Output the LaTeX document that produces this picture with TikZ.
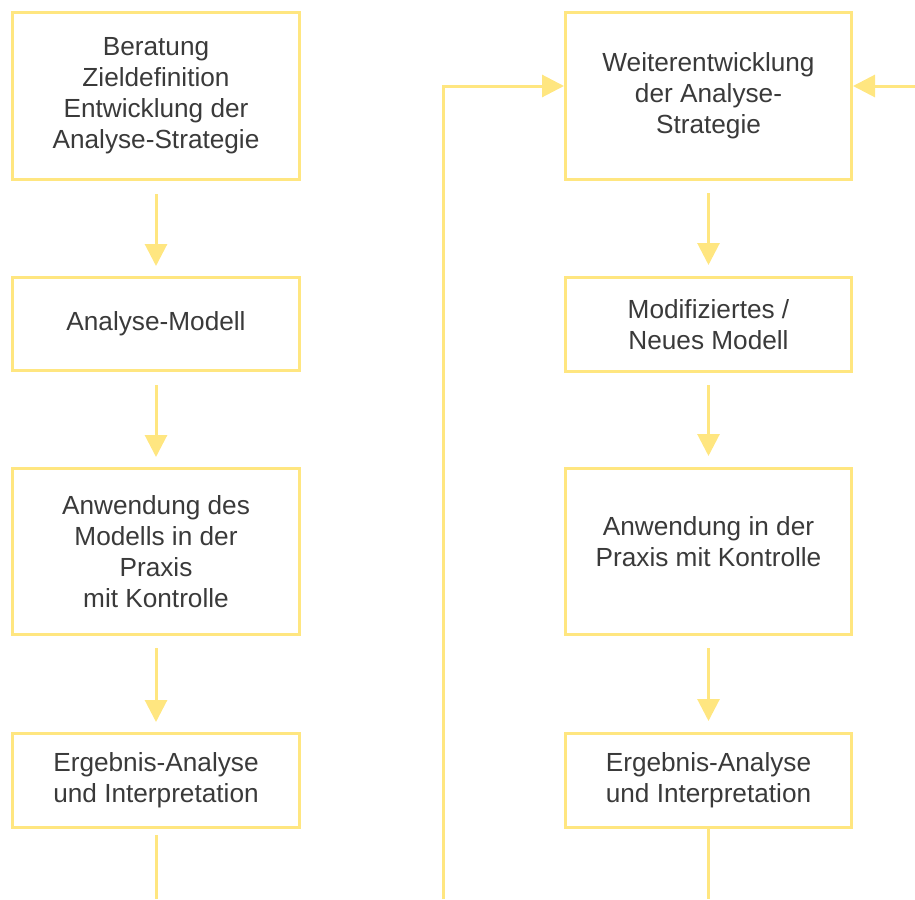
\documentclass[tikz,border=0pt]{standalone}
\usepackage{fontspec}
\setmainfont{Liberation Sans}
\usetikzlibrary{arrows.meta}
\definecolor{boxline}{HTML}{FFE680}
\definecolor{txt}{HTML}{3A3A3A}
\tikzset{
  stepbox/.style={draw=boxline, line width=3pt, fill=white, align=center,
    text=txt, font=\fontsize{26.2}{31}\selectfont, inner sep=0pt},
  narrowbox/.style={stepbox, minimum width=287pt},
  link/.style={draw=boxline, line width=3pt},
  flow/.style={link, -{Triangle[width=22pt,length=22pt]}},
}
\begin{document}
\begin{tikzpicture}[x=1pt,y=-1pt]
\useasboundingbox (0,0) rectangle (915,899);

% left column
\node[narrowbox, minimum height=167pt] (l1) at (156,96)
  {Beratung\\Zieldefinition\\Entwicklung der\\Analyse-Strategie};
\node[narrowbox, minimum height=93pt] (l2) at (156,324) {Analyse-Modell};
\node[narrowbox, minimum height=166pt] (l3) at (156,551.5)
  {Anwendung des\\Modells in der\\Praxis\\mit Kontrolle};
\node[narrowbox, minimum height=94pt] (l4) at (156,780.5)
  {Ergebnis-Analyse\\und Interpretation};

% right column
\node[stepbox, minimum width=286pt, minimum height=167pt] (r1) at (708.5,96)
  {Weiterentwicklung\\der Analyse-\\Strategie};
\node[stepbox, minimum width=286pt, minimum height=94pt] (r2) at (708.5,324.5)
  {Modifiziertes /\\Neues Modell};
\node[stepbox, minimum width=286pt, minimum height=166pt] (r3) at (708.5,551.5)
  {\raisebox{39pt}{\begin{tabular}{@{}c@{}}Anwendung in der\\Praxis mit Kontrolle\end{tabular}}};
\node[stepbox, minimum width=286pt, minimum height=94pt] (r4) at (708.5,780.5)
  {Ergebnis-Analyse\\und Interpretation};

% free ends of the open connectors
\coordinate (lbot) at (156,899);
\coordinate (rbot) at (708.5,899);
\coordinate (loop) at (443,899);
\coordinate (ext) at (915,86);

% downward flow, left
\draw[flow] ([yshift=-13pt]l1.south) -- ([yshift=10pt]l2.north);
\draw[flow] ([yshift=-13pt]l2.south) -- ([yshift=10pt]l3.north);
\draw[flow] ([yshift=-12pt]l3.south) -- ([yshift=10pt]l4.north);
\draw[link] ([yshift=-6pt]l4.south) -- (lbot);

% downward flow, right
\draw[flow] ([yshift=-12pt]r1.south) -- ([yshift=11pt]r2.north);
\draw[flow] ([yshift=-12pt]r2.south) -- ([yshift=11pt]r3.north);
\draw[flow] ([yshift=-12pt]r3.south) -- ([yshift=11pt]r4.north);
\draw[link] (r4.south) -- (rbot);

% feedback into the further development
\draw[flow] (loop) |- ([yshift=10pt]r1.west);
\draw[flow] (ext) -- ([yshift=10pt]r1.east);
\end{tikzpicture}
\end{document}
